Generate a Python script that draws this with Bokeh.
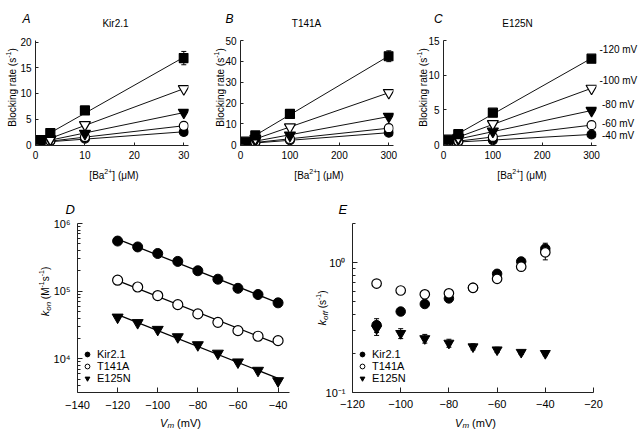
import numpy as np
from bokeh.plotting import figure
from bokeh.models import (Label, Whisker, TeeHead, ColumnDataSource, FixedTicker,
                          CustomJSTickFormatter, Range1d)
from bokeh.layouts import row, column
from bokeh.embed import file_html
from bokeh.resources import INLINE

FONT = "Liberation Sans"
NB = "\u00a0"

# ---------------- data ----------------
conc_A = [1, 3, 10, 30]
conc_BC = [10, 30, 100, 300]
voltage_names = ["-120 mV", "-100 mV", "-80 mV", "-60 mV", "-40 mV"]

kir_m120 = [0.9, 2.3, 6.7, 16.9]
kir_m100 = [0.6, 1.1, 3.9, 10.9]
kir_m80 = [0.5, 1.0, 2.2, 6.3]
kir_m60 = [0.4, 0.8, 1.5, 3.7]
kir_m40 = [0.3, 0.7, 1.2, 2.5]
kir_err_m120 = [0.0, 0.0, 0.3, 1.3]

t141a_m120 = [1.5, 4.5, 14.8, 42.5]
t141a_m100 = [1.0, 3.0, 8.5, 25.0]
t141a_m80 = [0.8, 2.0, 4.6, 13.6]
t141a_m60 = [0.5, 1.3, 2.8, 8.0]
t141a_m40 = [0.4, 1.0, 2.2, 5.8]
t141a_err_m120 = [0.0, 0.0, 0.6, 2.6]

e125n_m120 = [0.7, 1.5, 4.6, 12.4]
e125n_m100 = [0.55, 1.0, 3.0, 8.1]
e125n_m80 = [0.45, 0.8, 1.9, 4.9]
e125n_m60 = [0.3, 0.5, 1.1, 2.8]
e125n_m40 = [0.25, 0.4, 0.65, 1.45]

vm_D = [-120, -110, -100, -90, -80, -70, -60, -50, -40]
kon_kir = [5.5e5, 4.5e5, 3.6e5, 2.75e5, 2.0e5, 1.5e5, 1.1e5, 8.9e4, 6.7e4]
kon_t141a = [1.45e5, 1.15e5, 8.6e4, 6.3e4, 4.6e4, 3.45e4, 2.6e4, 2.15e4, 1.85e4]
kon_e125n = [4.1e4, 3.4e4, 2.7e4, 2.1e4, 1.6e4, 1.2e4, 8.9e3, 6.7e3, 4.7e3]

vm_E = [-110, -100, -90, -80, -70, -60, -50, -40]
koff_kir = [0.33, 0.42, 0.48, 0.53, 0.64, 0.82, 1.02, 1.28]
koff_kir_err = [0.04, 0.02, 0.02, 0.02, 0.02, 0.03, 0.05, 0.13]
koff_t141a = [0.69, 0.61, 0.57, 0.58, 0.64, 0.75, 0.93, 1.2]
koff_t141a_err = [0.02, 0.02, 0.02, 0.02, 0.02, 0.03, 0.04, 0.15]
koff_e125n = [0.31, 0.285, 0.26, 0.24, 0.225, 0.213, 0.204, 0.2]
koff_e125n_err = [0.035, 0.025, 0.02, 0.017, 0.012, 0.01, 0.008, 0.008]

series_names = ["Kir2.1", "T141A", "E125N"]

ticks_A_x = [0, 10, 20, 30]
ticks_A_y = [0, 5, 10, 15, 20]
ticks_BC_x = [0, 100, 200, 300]
ticks_B_y = [0, 10, 20, 30, 40, 50]
ticks_C_y = [0, 5, 10, 15]
ticks_D_x = [-140, -120, -100, -80, -60, -40]
ticks_D_y = [1e4, 1e5, 1e6]
ticks_E_x = [-120, -100, -80, -60, -40, -20]
ticks_E_y = [0.1, 1.0]

# ---------------- helpers ----------------
EM = {'k': .5, 'o': .556, 'n': .556, ' ': .278, NB: .278, '(': .333, ')': .333, 'M': .833,
      '-': .333, '1': .556, 's': .5, 'f': .278, 'V': .667, 'm': .833, '[': .278,
      ']': .278, 'B': .667, 'a': .556, '2': .556, '+': .584, 'μ': .576, 'l': .222,
      'c': .5, 'i': .222, 'g': .556, 'r': .333, 't': .278, 'e': .556}


def tw(s, size):
    return sum(EM.get(c, .556) for c in s) * size


def new_fig(w, h, bl, bt, fw, fh, xr, yr, ylog=False):
    p = figure(width=w, height=h, x_range=Range1d(*xr), y_range=Range1d(*yr),
               y_axis_type="log" if ylog else "linear",
               output_backend="svg", toolbar_location=None)
    p.min_border_left = bl
    p.min_border_top = bt
    p.min_border_right = w - bl - fw
    p.min_border_bottom = h - bt - fh
    p.xgrid.visible = False
    p.ygrid.visible = False
    p.outline_line_color = None
    p.background_fill_color = "white"
    p.border_fill_color = "white"
    for ax in (p.xaxis[0], p.yaxis[0]):
        ax.axis_line_color = "#222222"
        ax.major_tick_line_color = "#222222"
        ax.minor_tick_line_color = "#222222"
        ax.major_tick_out = 0
        ax.minor_tick_out = 0
        ax.major_label_text_font = FONT
        ax.major_label_text_color = "black"
    return p


TOTAL_W, TOTAL_H = 640, 432
# transparent overlay holding every text outside the plot frames (page coordinates)
ov = figure(width=TOTAL_W, height=TOTAL_H, x_range=Range1d(0, TOTAL_W), y_range=Range1d(0, TOTAL_H),
            x_axis_location=None, y_axis_location=None, output_backend="svg",
            toolbar_location=None, min_border=0)
ov.xgrid.visible = False
ov.ygrid.visible = False
ov.outline_line_color = None
ov.background_fill_alpha = 0
ov.border_fill_alpha = 0
ov.styles = {"margin-top": f"-{TOTAL_H}px"}


def add_runs(runs, cx, cy, vertical=False):
    total = sum(tw(t, sz) for t, sz, st, sh in runs)
    main = max(sz for t, sz, st, sh in runs)
    if not vertical:
        x = cx - total / 2
        base = cy + 0.36 * main
        for t, sz, st, sh in runs:
            ov.add_layout(Label(x=x, y=TOTAL_H - (base - sh), x_units="screen", y_units="screen",
                                text=t, text_font=FONT, text_font_size=f"{sz}px", text_font_style=st,
                                text_align="left", text_baseline="alphabetic", text_color="black"))
            x += tw(t, sz)
    else:
        y = cy + total / 2
        base = cx + 0.36 * main
        for t, sz, st, sh in runs:
            ov.add_layout(Label(x=base - sh, y=TOTAL_H - y, x_units="screen", y_units="screen",
                                angle=np.pi / 2, text=t, text_font=FONT, text_font_size=f"{sz}px",
                                text_font_style=st, text_align="left", text_baseline="alphabetic",
                                text_color="black"))
            y -= tw(t, sz)


def add_text(text, px, py, size, style="normal", align="left", baseline="alphabetic"):
    ov.add_layout(Label(x=px, y=TOTAL_H - py, x_units="screen", y_units="screen",
                        text=text, text_font=FONT, text_font_size=f"{size}px", text_font_style=style,
                        text_align=align, text_baseline=baseline, text_color="black"))


sup_formatter = CustomJSTickFormatter(code="""
const sup = {'0':'\u2070','1':'\u00b9','2':'\u00b2','3':'\u00b3','4':'\u2074','5':'\u2075',
             '6':'\u2076','7':'\u2077','8':'\u2078','9':'\u2079','-':'\u207b'};
const e = Math.round(Math.log10(tick));
return '10' + String(e).split('').map(c => sup[c]).join('');
""")

VSTYLES = [("square", "black", 9), ("inverted_triangle", "white", 11),
           ("inverted_triangle", "black", 11), ("circle", "white", 9), ("circle", "black", 9)]


def conc_panel(w, bl, xr, yr, xt, yt, conc, sets, err, letter, letter_x, title, title_cx, label_cx, xl_cx):
    fw, fh, bt, h = 153, 105, 40, 190
    p = new_fig(w, h, bl, bt, fw, fh, xr, yr)
    p.xaxis.ticker = FixedTicker(ticks=xt)
    p.yaxis.ticker = FixedTicker(ticks=yt)
    for ax in (p.xaxis[0], p.yaxis[0]):
        ax.major_tick_in = 3
        ax.minor_tick_line_color = None
        ax.major_label_text_font_size = "10px"
    p.xaxis.major_label_standoff = 5
    p.yaxis.major_label_standoff = 4
    xs = np.array(conc, dtype=float)
    for vals in sets:
        a, b = np.polyfit(xs, np.array(vals), 1)
        p.line([xs[0], xs[-1]], [a * xs[0] + b, a * xs[-1] + b], line_color="#111111", line_width=1)
    src = ColumnDataSource(dict(x=conc, upper=[v + e for v, e in zip(sets[0], err)],
                                lower=[v - e for v, e in zip(sets[0], err)]))
    p.add_layout(Whisker(source=src, base="x", upper="upper", lower="lower", line_color="black",
                         upper_head=TeeHead(size=5, line_color="black"),
                         lower_head=TeeHead(size=5, line_color="black")))
    for vals, (mk, fc, sz) in reversed(list(zip(sets, VSTYLES))):
        p.scatter(conc, vals, marker=mk, size=sz, fill_color=fc, line_color="black", line_width=1.2)
    add_text(letter, letter_x, 18.5, 12, style="italic")
    add_text(title, title_cx, 23, 10, align="center", baseline="middle")
    add_runs([("Blocking rate (s", 10, "normal", 0), ("-1", 7, "normal", 4), (")", 10, "normal", 0)],
             label_cx, 87, vertical=True)
    add_runs([("[Ba", 10, "normal", 0), ("2+", 7, "normal", 4), ("]" + NB + "(μM)", 10, "normal", 0)],
             xl_cx, 171)
    return p


pA = conc_panel(208, 35, (0, 30.95), (-0.14, 20.33), ticks_A_x, ticks_A_y, conc_A,
                [kir_m120, kir_m100, kir_m80, kir_m60, kir_m40], kir_err_m120,
                "A", 22, series_names[0], 115, 8.5, 113.5)
pB = conc_panel(202, 32, (0, 309.5), (-0.33, 50.05), ticks_BC_x, ticks_B_y, conc_BC,
                [t141a_m120, t141a_m100, t141a_m80, t141a_m60, t141a_m40], t141a_err_m120,
                "B", 225, series_names[1], 306, 216.5, 318.5)
pC = conc_panel(TOTAL_W - 410, 33, (0, 310), (-0.14, 15.02), ticks_BC_x, ticks_C_y, conc_BC,
                [e125n_m120, e125n_m100, e125n_m80, e125n_m60, e125n_m40], [0, 0, 0, 0],
                "C", 433.5, series_names[2], 517, 419, 521.5)
for name, py, px in zip(voltage_names, [49.3, 80, 104.3, 123.3, 135], [599, 599, 601.5, 601.5, 601.5]):
    add_text(name, px, py, 10, baseline="middle")


def style_log(p, yticks, size="11px"):
    for ax in (p.xaxis[0], p.yaxis[0]):
        ax.major_tick_in = 5
        ax.major_label_text_font_size = size
    p.xaxis.minor_tick_line_color = None
    p.yaxis.minor_tick_in = 3
    lo, hi = p.y_range.start, p.y_range.end
    minors = [k * 10.0 ** e for e in range(-3, 8) for k in range(2, 10) if lo <= k * 10.0 ** e <= hi * 1.0001]
    p.yaxis.ticker = FixedTicker(ticks=yticks, minor_ticks=minors)
    p.yaxis.formatter = sup_formatter


LEG_STYLES = [("circle", "black"), ("circle", "white"), ("inverted_triangle", "black")]


def add_legend(p):
    # key-only renderers: a single undefined (NaN) point, so nothing is drawn in the plot area
    for name, (mk, fc) in zip(series_names, LEG_STYLES):
        p.scatter([float("nan")], [float("nan")], marker=mk, size=7, fill_color=fc,
                  line_color="black", line_width=1, legend_label=name)
    lg = p.legend[0]
    lg.location = (4, 8)
    lg.padding = 0
    lg.margin = 0
    lg.spacing = 0
    lg.glyph_width = 12
    lg.glyph_height = 12
    lg.label_height = 12
    lg.label_standoff = 4
    lg.label_text_font = FONT
    lg.label_text_font_size = "11px"
    lg.label_text_color = "black"
    lg.border_line_color = None
    lg.background_fill_alpha = 0


BOT_H = TOTAL_H - 190
# ---------- panel D ----------
pD = new_fig(308, BOT_H, 77, 33, 212, 169, (-140, -34.3), (10 ** 3.5, 1e6), ylog=True)
style_log(pD, ticks_D_y)
pD.xaxis.ticker = FixedTicker(ticks=ticks_D_x)
pD.xaxis.major_label_standoff = 8
pD.yaxis.major_label_standoff = 7
vd = np.array(vm_D, dtype=float)
for vals in (kon_kir, kon_t141a, kon_e125n):
    a, b = np.polyfit(vd, np.log10(vals), 1)
    pD.line([vd[0], vd[-1]], [10 ** (a * vd[0] + b), 10 ** (a * vd[-1] + b)], line_color="black", line_width=1.3)
pD.scatter(vm_D, kon_kir, marker="circle", size=10, fill_color="black", line_color="black")
pD.scatter(vm_D, kon_t141a, marker="circle", size=10, fill_color="white", line_color="black", line_width=1.2)
pD.scatter(vm_D, kon_e125n, marker="inverted_triangle", size=11, fill_color="black", line_color="black")
add_legend(pD)
add_text("D", 65, 209, 13, style="italic")
add_runs([("k", 11, "italic", 0), ("on", 8, "italic", -3), (NB + "(M", 10, "normal", 0),
          ("-1", 7, "normal", 4), ("s", 10, "normal", 0), ("-1", 7, "normal", 4), (")", 10, "normal", 0)],
         41, 291, vertical=True)
add_runs([("V", 11, "italic", 0), ("m", 8, "italic", -3), (NB + "(mV)", 11, "normal", 0)], 180, 418.5)

# ---------- panel E ----------
pE = new_fig(TOTAL_W - 308, BOT_H, 44, 33, 241, 169, (-120, -20), (0.1, 2.0), ylog=True)
style_log(pE, ticks_E_y)
pE.xaxis.ticker = FixedTicker(ticks=ticks_E_x)
pE.xaxis.major_label_standoff = 7
pE.yaxis.major_label_standoff = 7
for vals, errs in ((koff_kir, koff_kir_err), (koff_t141a, koff_t141a_err), (koff_e125n, koff_e125n_err)):
    src = ColumnDataSource(dict(x=vm_E, upper=[v + e for v, e in zip(vals, errs)],
                                lower=[v - e for v, e in zip(vals, errs)]))
    pE.add_layout(Whisker(source=src, base="x", upper="upper", lower="lower", line_color="black",
                          upper_head=TeeHead(size=5, line_color="black"),
                          lower_head=TeeHead(size=5, line_color="black")))
pE.scatter(vm_E, koff_kir, marker="circle", size=9.5, fill_color="black", line_color="black")
pE.scatter(vm_E, koff_t141a, marker="circle", size=9.5, fill_color="white", line_color="black", line_width=1.2)
pE.scatter(vm_E, koff_e125n, marker="inverted_triangle", size=10, fill_color="black", line_color="black")
add_legend(pE)
add_text("E", 338, 209, 13, style="italic")
add_runs([("k", 11, "italic", 0), ("off", 8, "italic", -3), (NB + "(s", 10, "normal", 0),
          ("-1", 7, "normal", 4), (")", 10, "normal", 0)], 318, 307.5, vertical=True)
add_runs([("V", 11, "italic", 0), ("m", 8, "italic", -3), (NB + "(mV)", 11, "normal", 0)], 475, 418.5)

layout = column(row(pA, pB, pC), row(pD, pE), ov)
open("out.html", "w").write(file_html(layout, INLINE))
